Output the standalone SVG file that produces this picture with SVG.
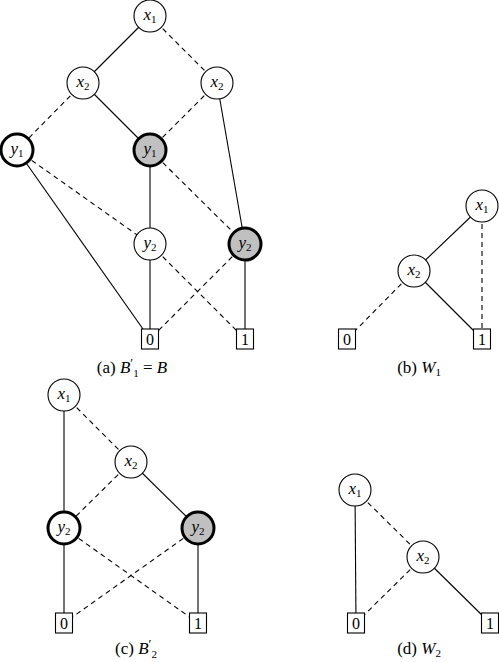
<svg xmlns="http://www.w3.org/2000/svg" width="499" height="662" viewBox="0 0 499 662">
<style>
.s{stroke:#000;stroke-width:1.1;fill:none}
.d{stroke:#000;stroke-width:1.1;fill:none;stroke-dasharray:5,4}
.n{fill:#fff;stroke:#000;stroke-width:1.1}
.b{fill:#fff;stroke:#000;stroke-width:3}
.g{fill:#c0c0c0;stroke:#000;stroke-width:3}
.t{font-family:"Liberation Serif","DejaVu Serif",serif;font-size:17px;text-anchor:middle}
.i{font-style:italic}
.sub{font-size:11px;font-style:normal}
.c{font-family:"Liberation Serif","DejaVu Serif",serif;font-size:17px;text-anchor:middle}
.bx{fill:#fff;stroke:#000;stroke-width:1.1}
.bt{font-family:"Liberation Serif","DejaVu Serif",serif;font-size:16px;text-anchor:middle}
</style>
<defs>
<circle id="circ" r="16"/>
</defs>
<g id="connectors">
<!-- (a) -->
<line class="s" x1="150" y1="16" x2="83" y2="83"/>
<line class="d" x1="150" y1="16" x2="217" y2="83"/>
<line class="d" x1="83" y1="83" x2="17" y2="150"/>
<line class="s" x1="83" y1="83" x2="150" y2="150"/>
<line class="d" x1="217" y1="83" x2="150" y2="150"/>
<line class="s" x1="217" y1="83" x2="245" y2="244"/>
<line class="s" x1="17" y1="150" x2="150" y2="339"/>
<line class="d" x1="17" y1="150" x2="150" y2="244"/>
<line class="s" x1="150" y1="150" x2="150" y2="244"/>
<line class="d" x1="150" y1="150" x2="245" y2="244"/>
<line class="s" x1="150" y1="244" x2="150" y2="339"/>
<line class="d" x1="150" y1="244" x2="245" y2="339"/>
<line class="d" x1="245" y1="244" x2="150" y2="339"/>
<line class="s" x1="245" y1="244" x2="245" y2="339"/>
<!-- (b) -->
<line class="s" x1="482" y1="206" x2="414" y2="271"/>
<line class="d" x1="482" y1="206" x2="482" y2="339"/>
<line class="d" x1="414" y1="271" x2="347" y2="339"/>
<line class="s" x1="414" y1="271" x2="482" y2="339"/>
<!-- (c) -->
<line class="s" x1="64" y1="395" x2="64" y2="528"/>
<line class="d" x1="64" y1="395" x2="131" y2="462"/>
<line class="d" x1="131" y1="462" x2="64" y2="528"/>
<line class="s" x1="131" y1="462" x2="198" y2="528"/>
<line class="s" x1="64" y1="528" x2="64" y2="623"/>
<line class="d" x1="64" y1="528" x2="198" y2="623"/>
<line class="d" x1="198" y1="528" x2="64" y2="623"/>
<line class="s" x1="198" y1="528" x2="198" y2="623"/>
<!-- (d) -->
<line class="s" x1="355" y1="490" x2="356" y2="623"/>
<line class="d" x1="355" y1="490" x2="423" y2="557"/>
<line class="d" x1="423" y1="557" x2="356" y2="623"/>
<line class="s" x1="423" y1="557" x2="490" y2="623"/>
</g>

<!-- (a) nodes -->
<g id="a_x1"><use href="#circ" class="n" x="150" y="16"/><text class="t" x="150" y="20"><tspan class="i">x</tspan><tspan class="sub" dy="3">1</tspan></text></g>
<g id="a_x2L"><use href="#circ" class="n" x="83" y="83"/><text class="t" x="83" y="87"><tspan class="i">x</tspan><tspan class="sub" dy="3">2</tspan></text></g>
<g id="a_x2R"><use href="#circ" class="n" x="217" y="83"/><text class="t" x="217" y="87"><tspan class="i">x</tspan><tspan class="sub" dy="3">2</tspan></text></g>
<g id="a_y1L"><use href="#circ" class="b" x="17" y="150"/><text class="t" x="17" y="154"><tspan class="i">y</tspan><tspan class="sub" dy="3">1</tspan></text></g>
<g id="a_y1M"><use href="#circ" class="g" x="150" y="150"/><text class="t" x="150" y="154"><tspan class="i">y</tspan><tspan class="sub" dy="3">1</tspan></text></g>
<g id="a_y2M"><use href="#circ" class="n" x="150" y="244"/><text class="t" x="150" y="248"><tspan class="i">y</tspan><tspan class="sub" dy="3">2</tspan></text></g>
<g id="a_y2R"><use href="#circ" class="g" x="245" y="244"/><text class="t" x="245" y="248"><tspan class="i">y</tspan><tspan class="sub" dy="3">2</tspan></text></g>
<g id="a_0"><rect class="bx" x="141.5" y="329" width="17" height="20"/><text class="bt" x="150" y="345">0</text></g>
<g id="a_1"><rect class="bx" x="236.5" y="329" width="17" height="20"/><text class="bt" x="245" y="345">1</text></g>
<text id="cap_a" class="c" x="132" y="373">(a) <tspan class="i">B</tspan><tspan font-size="13" dy="-6">′</tspan><tspan font-size="11" dy="10">1</tspan><tspan dy="-4"> = </tspan><tspan class="i">B</tspan></text>

<!-- (b) nodes -->
<g id="b_x1"><use href="#circ" class="n" x="482" y="206"/><text class="t" x="482" y="210"><tspan class="i">x</tspan><tspan class="sub" dy="3">1</tspan></text></g>
<g id="b_x2"><use href="#circ" class="n" x="414" y="271"/><text class="t" x="414" y="275"><tspan class="i">x</tspan><tspan class="sub" dy="3">2</tspan></text></g>
<g id="b_0"><rect class="bx" x="338.5" y="329" width="17" height="20"/><text class="bt" x="347" y="345">0</text></g>
<g id="b_1"><rect class="bx" x="473.5" y="329" width="17" height="20"/><text class="bt" x="482" y="345">1</text></g>
<text id="cap_b" class="c" x="419" y="373">(b) <tspan class="i">W</tspan><tspan font-size="11" dy="3">1</tspan></text>

<!-- (c) nodes -->
<g id="c_x1"><use href="#circ" class="n" x="64" y="395"/><text class="t" x="64" y="399"><tspan class="i">x</tspan><tspan class="sub" dy="3">1</tspan></text></g>
<g id="c_x2"><use href="#circ" class="n" x="131" y="462"/><text class="t" x="131" y="466"><tspan class="i">x</tspan><tspan class="sub" dy="3">2</tspan></text></g>
<g id="c_y2L"><use href="#circ" class="b" x="64" y="528"/><text class="t" x="64" y="532"><tspan class="i">y</tspan><tspan class="sub" dy="3">2</tspan></text></g>
<g id="c_y2R"><use href="#circ" class="g" x="198" y="528"/><text class="t" x="198" y="532"><tspan class="i">y</tspan><tspan class="sub" dy="3">2</tspan></text></g>
<g id="c_0"><rect class="bx" x="55.5" y="613" width="17" height="20"/><text class="bt" x="64" y="629">0</text></g>
<g id="c_1"><rect class="bx" x="189.5" y="613" width="17" height="20"/><text class="bt" x="198" y="629">1</text></g>
<text id="cap_c" class="c" x="136" y="654">(c) <tspan class="i">B</tspan><tspan font-size="13" dy="-6">′</tspan><tspan font-size="11" dy="10">2</tspan></text>

<!-- (d) nodes -->
<g id="d_x1"><use href="#circ" class="n" x="355" y="490"/><text class="t" x="355" y="494"><tspan class="i">x</tspan><tspan class="sub" dy="3">1</tspan></text></g>
<g id="d_x2"><use href="#circ" class="n" x="423" y="557"/><text class="t" x="423" y="561"><tspan class="i">x</tspan><tspan class="sub" dy="3">2</tspan></text></g>
<g id="d_0"><rect class="bx" x="347.5" y="613" width="17" height="20"/><text class="bt" x="356" y="629">0</text></g>
<g id="d_1"><rect class="bx" x="481.5" y="613" width="17" height="20"/><text class="bt" x="490" y="629">1</text></g>
<text id="cap_d" class="c" x="419" y="654">(d) <tspan class="i">W</tspan><tspan font-size="11" dy="3">2</tspan></text>
</svg>
